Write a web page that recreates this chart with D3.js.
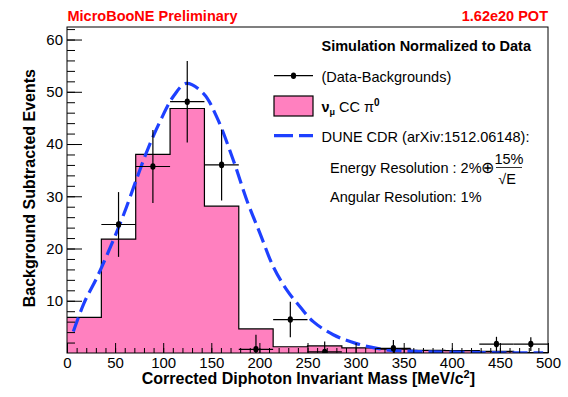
<!DOCTYPE html>
<html><head><meta charset="utf-8">
<script src="https://cdn.jsdelivr.net/npm/d3@7"></script>
<style>
html,body{margin:0;padding:0;background:#fff;}
svg{display:block;font-family:"Liberation Sans",Arial,Helvetica,sans-serif;}
</style></head>
<body>
<svg id="chart" width="568" height="397"></svg>
<script>
// ---------- data ----------
const binEdges = [0, 35.714, 71.429, 107.143, 142.857, 178.571, 214.286, 250, 285.714, 321.429, 357.143, 392.857, 428.571, 464.286, 500];
const mcValues = [6.8, 21.8, 38.0, 46.8, 28.1, 4.6, 1.2, 1.35, 1.0, 0.75, 0.5, 0.45, 0.3, 0.1];
const dataValues = [null, 24.6, 35.7, 48.1, 36.0, 0.7, 6.4, 0.2, null, 0.9, null, null, 1.7, 1.7];
const dataErrors = [null, 6.2, 7.0, 7.8, 6.8, 2.8, 3.4, 2.0, null, 1.6, null, null, 1.4, 1.3];
const curveX = [6.6, 17.7, 31.5, 45.4, 59.3, 73.1, 83.5, 97.4, 111.2, 124, 141.7, 155.6, 172.9, 186.8, 200.6, 214.5, 228.4, 242, 256, 276.8, 301, 332, 363.5, 400, 450, 495];
const curveY = [4.1, 9.55, 14.6, 20.4, 26.7, 33.7, 38.8, 44.6, 49.3, 51.6, 49.7, 45.2, 36.9, 29.3, 22.9, 16.5, 12.1, 8.9, 6.0, 3.5, 1.8, 0.6, 0.3, 0.15, 0.05, 0.02];
const xMajorTicks = [0, 50, 100, 150, 200, 250, 300, 350, 400, 450, 500];
const yMajorTicks = [10, 20, 30, 40, 50, 60];
const xDomain = [0, 500];
const yDomain = [0, 62.4];

// ---------- setup ----------
const svg = d3.select("#chart");
const L = 67, R = 548, T = 27, B = 353;
const x = d3.scaleLinear().domain(xDomain).range([L, R]);
const y = d3.scaleLinear().domain(yDomain).range([B, T]);
const PINK = "#ff80bf", BLUE = "#1e40ff";

svg.append("defs").append("clipPath").attr("id", "clip")
  .append("rect").attr("x", L).attr("y", T).attr("width", R - L).attr("height", B - T);

const plot = svg.append("g").attr("clip-path", "url(#clip)");

// histogram
const stepPts = [];
mcValues.forEach((v, i) => { stepPts.push([binEdges[i], v]); stepPts.push([binEdges[i + 1], v]); });
plot.append("path").datum(stepPts)
  .attr("d", d3.area().x(d => x(d[0])).y0(y(0)).y1(d => y(d[1])))
  .attr("fill", PINK);
plot.append("path").datum(stepPts)
  .attr("d", d3.line().x(d => x(d[0])).y(d => y(d[1])))
  .attr("fill", "none").attr("stroke", "#000").attr("stroke-width", 1.2);

// axes ticks (inside)
function styleAxis(g) {
  g.select(".domain").remove();
  g.selectAll("line").attr("stroke", "#000").attr("stroke-width", 1);
  g.selectAll("text").attr("fill", "#000").attr("font-size", "15px")
    .attr("font-family", "Liberation Sans, Arial, sans-serif");
}
svg.append("g").attr("transform", `translate(0,${B})`)
  .call(d3.axisBottom(x).tickValues(d3.range(0, 501, 10)).tickSize(-5).tickFormat(""))
  .call(styleAxis);
svg.append("g").attr("transform", `translate(0,${B})`)
  .call(d3.axisBottom(x).tickValues(xMajorTicks).tickSize(-10).tickPadding(4).tickFormat(d3.format("d")))
  .call(styleAxis);
svg.append("g").attr("transform", `translate(${L},0)`)
  .call(d3.axisLeft(y).tickValues(d3.range(2, 62.4, 2)).tickSize(-8).tickFormat(""))
  .call(styleAxis);
svg.append("g").attr("transform", `translate(${L},0)`)
  .call(d3.axisLeft(y).tickValues(yMajorTicks).tickSize(-15).tickPadding(4).tickFormat(d3.format("d")))
  .call(styleAxis);

// dashed curve
plot.append("path").datum(curveX.map((cx, i) => [cx, curveY[i]]))
  .attr("d", d3.line().x(d => x(d[0])).y(d => y(d[1])).curve(d3.curveCatmullRom))
  .attr("fill", "none").attr("stroke", BLUE).attr("stroke-width", 3.2)
  .attr("stroke-dasharray", "15,6");

// data points
const pts = dataValues.map((v, i) => ({ v, e: dataErrors[i], lo: binEdges[i], hi: binEdges[i + 1] }))
  .filter(d => d.v !== null);
const pg = plot.append("g");
pts.forEach(d => {
  const cx = x((d.lo + d.hi) / 2);
  pg.append("line").attr("x1", x(d.lo)).attr("x2", x(d.hi)).attr("y1", y(d.v)).attr("y2", y(d.v))
    .attr("stroke", "#000").attr("stroke-width", 1.2);
  pg.append("line").attr("x1", cx).attr("x2", cx).attr("y1", y(Math.max(0, d.v - d.e))).attr("y2", y(d.v + d.e))
    .attr("stroke", "#000").attr("stroke-width", 1.2);
  pg.append("ellipse").attr("cx", cx).attr("cy", y(d.v)).attr("rx", 2.6).attr("ry", 3.3).attr("fill", "#000");
});

// frame
svg.append("rect").attr("x", L).attr("y", T).attr("width", R - L).attr("height", B - T)
  .attr("fill", "none").attr("stroke", "#000").attr("stroke-width", 1);

// titles
svg.append("text").attr("x", 67.5).attr("y", 20.5).attr("fill", "#ff0000")
  .attr("font-weight", "bold").attr("font-size", "14.5px").text("MicroBooNE Preliminary");
svg.append("text").attr("x", 548).attr("y", 20.5).attr("fill", "#ff0000").attr("text-anchor", "end")
  .attr("font-weight", "bold").attr("font-size", "14.5px").text("1.62e20 POT");

svg.append("text").attr("transform", "translate(34.5,69) rotate(-90)").attr("text-anchor", "end")
  .attr("font-weight", "bold").attr("font-size", "16px").text("Background Subtracted Events");

const xt = svg.append("text").attr("x", 475).attr("y", 383.5).attr("text-anchor", "end")
  .attr("font-weight", "bold").attr("font-size", "16px");
xt.append("tspan").text("Corrected Diphoton Invariant Mass [MeV/c");
xt.append("tspan").attr("font-size", "11px").attr("dy", -6).text("2");
xt.append("tspan").attr("dy", 6).text("]");

// legend
const lg = svg.append("g").attr("font-size", "14.5px");
lg.append("text").attr("x", 321.5).attr("y", 51).attr("font-weight", "bold").text("Simulation Normalized to Data");
// data row
lg.append("line").attr("x1", 274).attr("x2", 313).attr("y1", 75.7).attr("y2", 75.7).attr("stroke", "#000").attr("stroke-width", 1.2);
lg.append("ellipse").attr("cx", 293.5).attr("cy", 75.7).attr("rx", 2.6).attr("ry", 3.3).attr("fill", "#000");
lg.append("text").attr("x", 321.5).attr("y", 81.5).text("(Data-Backgrounds)");
// mc row
lg.append("rect").attr("x", 274).attr("y", 96).attr("width", 39).attr("height", 20)
  .attr("fill", PINK).attr("stroke", "#000").attr("stroke-width", 1.2);
const nt = lg.append("text").attr("x", 321.5).attr("y", 111.5);
nt.append("tspan").attr("font-weight", "bold").text("ν");
nt.append("tspan").attr("font-size", "9px").attr("dy", 3).attr("font-weight", "bold").text("μ");
nt.append("tspan").attr("dy", -3).text(" CC π");
nt.append("tspan").attr("font-size", "10px").attr("dy", -6).attr("font-weight", "bold").text("0");
// curve row
lg.append("line").attr("x1", 274).attr("x2", 313).attr("y1", 135.7).attr("y2", 135.7)
  .attr("stroke", BLUE).attr("stroke-width", 3.2).attr("stroke-dasharray", "19,6");
lg.append("text").attr("x", 321.5).attr("y", 141.5).text("DUNE CDR (arXiv:1512.06148):");
lg.append("text").attr("x", 330).attr("y", 172.5).text("Energy Resolution : 2%");
lg.append("text").attr("x", 487.5).attr("y", 172.5).attr("text-anchor", "middle").attr("font-size", "16px").text("⊕");
lg.append("text").attr("x", 509).attr("y", 164).attr("text-anchor", "middle").text("15%");
lg.append("line").attr("x1", 496).attr("x2", 522).attr("y1", 167.5).attr("y2", 167.5).attr("stroke", "#000").attr("stroke-width", 0.8);
lg.append("text").attr("x", 507).attr("y", 184).attr("text-anchor", "middle").text("√E");
lg.append("text").attr("x", 330).attr("y", 201.5).text("Angular Resolution: 1%");
</script>
</body></html>
